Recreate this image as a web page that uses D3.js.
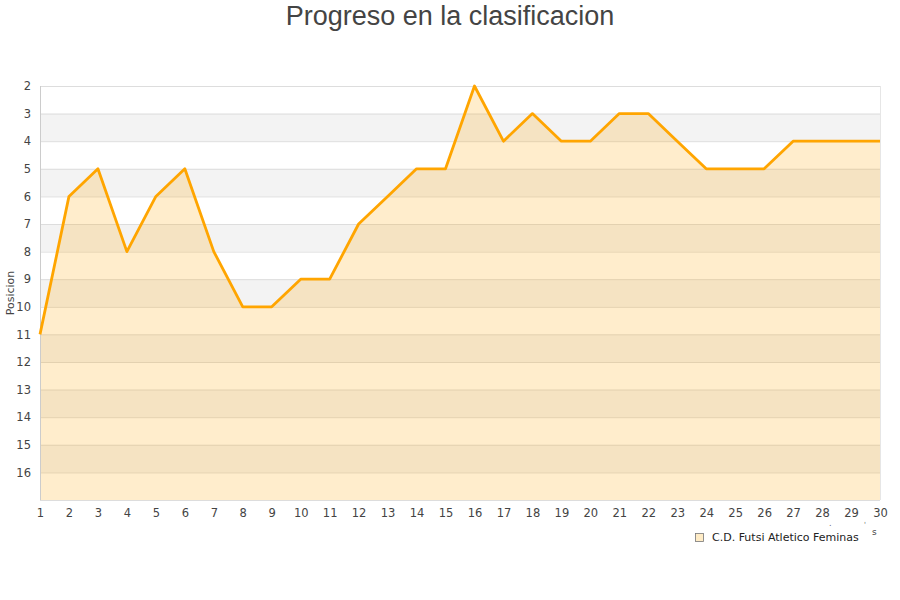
<!DOCTYPE html>
<html>
<head>
<meta charset="utf-8">
<script src="https://cdn.jsdelivr.net/npm/d3@7"></script>
<style>
  body { margin: 0; background: #fff; }
</style>
</head>
<body>
<div id="chart"></div>
<script>
// jornadas y posicion
var jornadas = [1,2,3,4,5,6,7,8,9,10,11,12,13,14,15,16,17,18,19,20,21,22,23,24,25,26,27,28,29,30];
var posiciones = [11,6,5,8,6,5,8,10,10,9,9,7,6,5,5,2,4,3,4,4,3,3,4,5,5,5,4,4,4,4];
var yTicks = [2,3,4,5,6,7,8,9,10,11,12,13,14,15,16];
var equipo = 'C.D. Futsi Atletico Feminas';

function drawChart() {
  var width = 900, height = 600;
  var left = 40, right = 880, top = 86, bottom = 500;
  var font = '"DejaVu Sans", sans-serif';

  var svg = d3.select('#chart').append('svg')
    .attr('width', width).attr('height', height)
    .style('font-family', font);

  var x = d3.scaleLinear().domain([1, 30]).range([left, right]);
  var y = d3.scaleLinear().domain([2, 17]).range([top, bottom]);

  // bandas alternas
  var bands = d3.range(2, 17);
  svg.selectAll('rect.band').data(bands).enter().append('rect')
    .attr('class', 'band')
    .attr('x', left).attr('width', right - left)
    .attr('y', function (d) { return y(d); })
    .attr('height', function (d) { return y(d + 1) - y(d); })
    .attr('fill', function (d) { return d % 2 == 1 ? '#f3f3f3' : '#ffffff'; });

  // lineas de rejilla
  svg.selectAll('line.grid').data(d3.range(2, 17)).enter().append('line')
    .attr('class', 'grid')
    .attr('x1', left).attr('x2', right)
    .attr('y1', function (d) { return y(d) + 0.5; })
    .attr('y2', function (d) { return y(d) + 0.5; })
    .attr('stroke', '#dddddd').attr('stroke-width', 1);

  var data = jornadas.map(function (j, i) { return { j: j, p: posiciones[i] }; });

  var area = d3.area()
    .x(function (d) { return x(d.j); })
    .y0(y(17))
    .y1(function (d) { return y(d.p); });

  svg.append('path').datum(data)
    .attr('d', area)
    .attr('fill', '#ffa500')
    .attr('fill-opacity', 0.2);

  // marco
  svg.append('line').attr('x1', left + 0.5).attr('x2', left + 0.5).attr('y1', top).attr('y2', bottom)
    .attr('stroke', '#cccccc');
  svg.append('line').attr('x1', left).attr('x2', right).attr('y1', bottom + 0.5).attr('y2', bottom + 0.5)
    .attr('stroke', '#dddddd');
  svg.append('line').attr('x1', right + 0.5).attr('x2', right + 0.5).attr('y1', top).attr('y2', bottom)
    .attr('stroke', '#e6e6e6');

  var line = d3.line()
    .x(function (d) { return x(d.j); })
    .y(function (d) { return y(d.p); });

  svg.append('path').datum(data)
    .attr('d', line)
    .attr('fill', 'none')
    .attr('stroke', '#ffa500')
    .attr('stroke-width', 2.8)
    .attr('stroke-linejoin', 'round');

  // ejes
  var yAxis = d3.axisLeft(y).tickValues(yTicks).tickSize(0).tickPadding(9);
  var gy = svg.append('g').attr('transform', 'translate(' + left + ',0)').call(yAxis);
  gy.select('.domain').remove();
  gy.selectAll('text').style('font-size', '11.5px').attr('fill', '#444').style('font-family', font);

  var xAxis = d3.axisBottom(x).tickValues(jornadas).tickSize(0).tickPadding(9).tickFormat(d3.format('d'));
  var gx = svg.append('g').attr('transform', 'translate(0,' + bottom + ')').call(xAxis);
  gx.select('.domain').remove();
  gx.selectAll('text').style('font-size', '11.5px').attr('fill', '#444').style('font-family', font);

  // titulo
  svg.append('text')
    .attr('x', 450).attr('y', 25)
    .attr('text-anchor', 'middle')
    .style('font-family', '"Liberation Sans", Arial, sans-serif')
    .style('font-size', '27px')
    .attr('fill', '#444')
    .text('Progreso en la clasificacion');

  svg.append('text')
    .attr('transform', 'translate(14,293) rotate(-90)')
    .attr('text-anchor', 'middle')
    .style('font-size', '11px')
    .attr('fill', '#444')
    .text('Posicion');

  // leyenda
  svg.append('rect')
    .attr('x', 695.5).attr('y', 533.5).attr('width', 8).attr('height', 8)
    .attr('fill', '#ffecc6').attr('stroke', '#777').attr('stroke-width', 0.8);
  svg.append('text')
    .attr('x', 712).attr('y', 541)
    .style('font-size', '11px').attr('fill', '#222')
    .text(equipo);

  // restos de texto cortado
  svg.append('text').attr('x', 829).attr('y', 526).style('font-size', '8px').attr('fill', '#666').text('.');
  svg.append('text').attr('x', 864).attr('y', 527).style('font-size', '7px').attr('fill', '#666').text("'");
  svg.append('text').attr('x', 872).attr('y', 535).style('font-size', '9px').attr('fill', '#444').text('s');
}

drawChart();
</script>
</body>
</html>
